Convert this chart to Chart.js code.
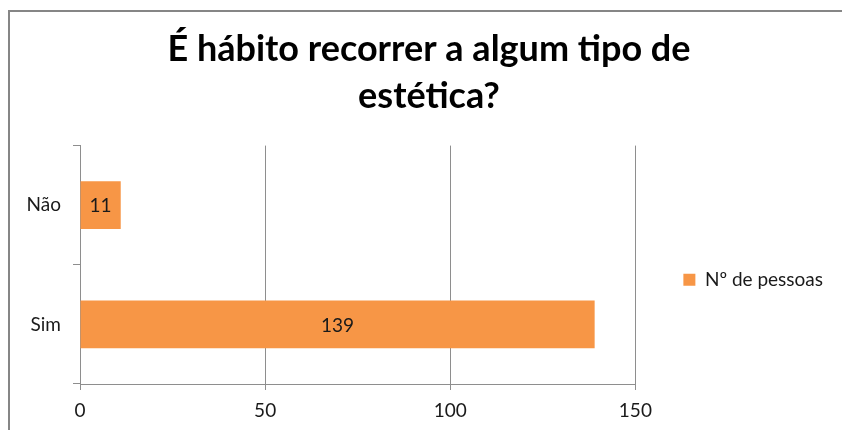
<!DOCTYPE html>
<html>
<head>
<meta charset="utf-8">
<script src="https://cdn.jsdelivr.net/npm/chart.js@4"></script>
<style>
  body { margin: 0; background: #fff; }
  #wrap { width: 842px; height: 430px; }
</style>
</head>
<body>
<div id="wrap"><canvas id="habitChart"></canvas></div>
<script>
let categories = ['Não', 'Sim'];
let pessoas = [11, 139];
let seriesName = 'Nº de pessoas';
let titleLines = ['É hábito recorrer a algum tipo de', 'estética?'];
let xTicks = [0, 50, 100, 150];

let orange = '#F79646';
let frameGray = '#868686';
let axisGray = '#8e8e8e';
let fontName = 'Lato, "Open Sans", sans-serif';

// gray frame around the whole chart
let framePlugin = {
    id: 'frame',
    beforeDraw(chart) {
        let ctx = chart.ctx;
        ctx.save();
        ctx.fillStyle = '#fff';
        ctx.fillRect(0, 0, chart.width, chart.height);
        ctx.strokeStyle = frameGray;
        ctx.lineWidth = 2;
        ctx.strokeRect(9, 11, 900, 500);
        ctx.restore();
    },
    afterLayout(chart) {
        // let the category labels run past the narrow axis box
        chart.scales.y.left = 0;
    }
};

// value written in the middle of each bar
let valueLabels = {
    id: 'valueLabels',
    afterDatasetsDraw(chart) {
        let ctx = chart.ctx;
        let meta = chart.getDatasetMeta(0);
        ctx.save();
        ctx.font = '19px ' + fontName;
        ctx.fillStyle = '#1a1a1a';
        ctx.textAlign = 'center';
        ctx.textBaseline = 'middle';
        meta.data.forEach((bar, i) => {
            ctx.fillText(pessoas[i], (bar.x + bar.base) / 2, bar.y + 1);
        });
        ctx.restore();
    }
};

new Chart(document.getElementById('habitChart'), {
    type: 'bar',
    data: {
        labels: categories,
        datasets: [{
            label: seriesName,
            data: pessoas,
            backgroundColor: orange,
            borderWidth: 0,
            categoryPercentage: 0.4,
            barPercentage: 1
        }]
    },
    options: {
        indexAxis: 'y',
        responsive: true,
        maintainAspectRatio: false,
        animation: false,
        layout: {
            padding: { left: 25, right: 9, top: 10, bottom: 0 }
        },
        plugins: {
            title: {
                display: true,
                text: titleLines,
                color: '#000',
                font: { family: fontName, size: 36, weight: 'bold', lineHeight: 1.3 },
                padding: { top: 16, bottom: 26 }
            },
            legend: {
                position: 'right',
                fullSize: false,
                title: { display: true, text: ' ', font: { size: 10, lineHeight: 1 }, padding: 10 },
                labels: {
                    boxWidth: 12,
                    boxHeight: 12,
                    padding: 48,
                    color: '#1a1a1a',
                    font: { family: fontName, size: 19 }
                }
            },
            tooltip: { enabled: false }
        },
        scales: {
            x: {
                min: 0,
                max: 150,
                afterBuildTicks: scale => {
                    scale.ticks = xTicks.map(v => ({ value: v }));
                },
                afterFit: scale => { scale.height = 46; },
                grid: { color: axisGray, tickLength: 6, lineWidth: 1 },
                border: { color: axisGray, width: 1 },
                ticks: { color: '#1a1a1a', padding: 9, font: { family: fontName, size: 19 } }
            },
            y: {
                afterFit: scale => { scale.width = 55; },
                grid: { offset: true, drawOnChartArea: false, color: axisGray, tickLength: 7 },
                border: { color: axisGray, width: 1 },
                ticks: { color: '#1a1a1a', padding: 12, font: { family: fontName, size: 19 } }
            }
        }
    },
    plugins: [framePlugin, valueLabels]
});
</script>
</body>
</html>
